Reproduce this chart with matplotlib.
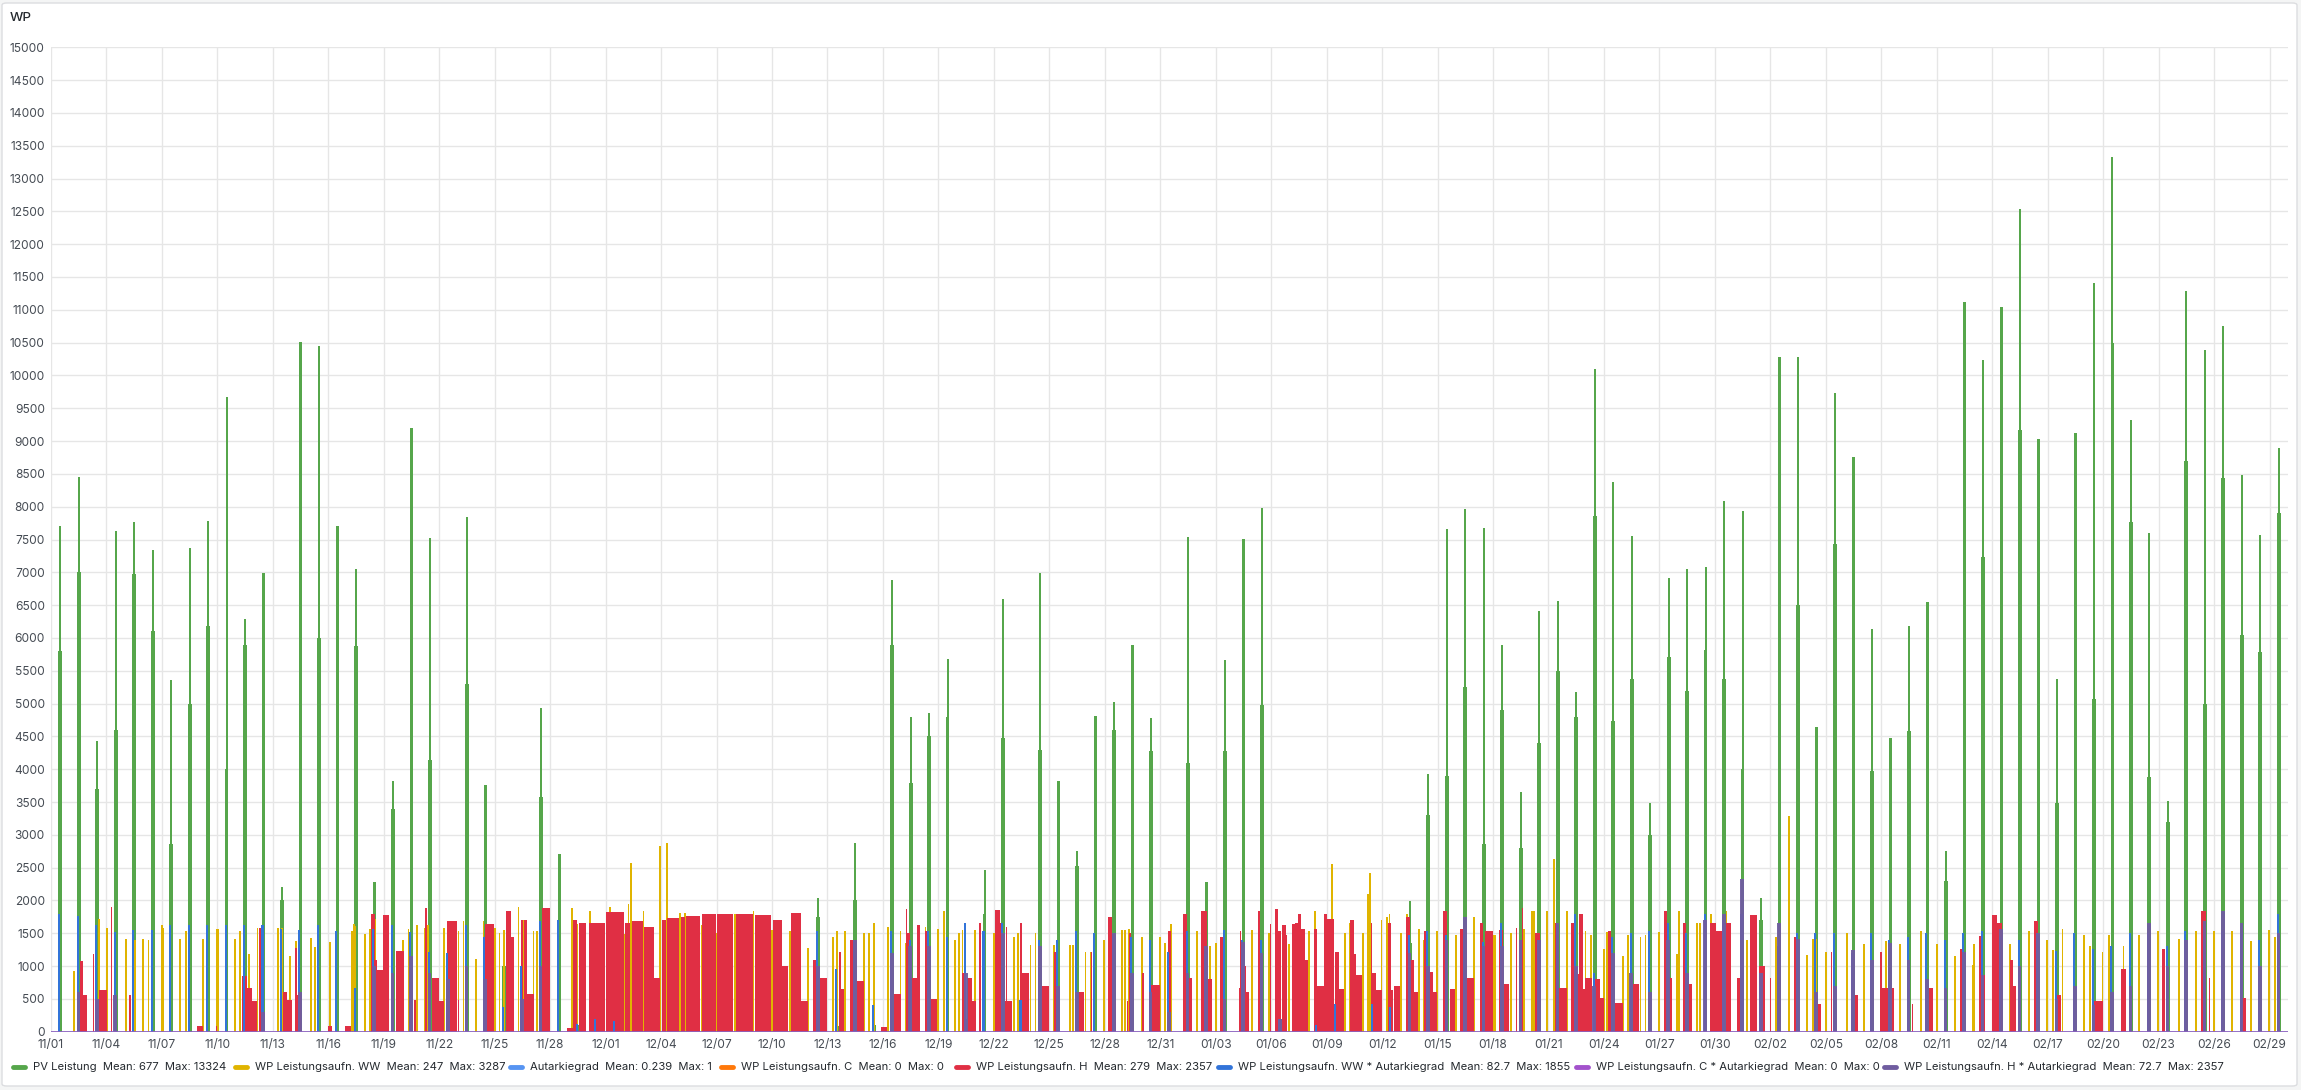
import matplotlib.pyplot as plt
from matplotlib.patches import FancyBboxPatch
from matplotlib.lines import Line2D
import numpy as np
import pandas as pd

plt.rcParams['font.family'] = ['Inter', 'DejaVu Sans']

# one entry per day, 2023-11-01 .. 2024-02-29 (x axis in days since 11/01)
days = pd.date_range('2023-11-01', '2024-02-29', freq='D')
tick_labels = [d.strftime('%m/%d') for d in days[::3]]

# PV Leistung, daily midday peak (W)
pv_peak = [7708, 8451, 4434, 7637, 7770, 7345, 5363, 7372, 7788, 9664,
           6283, 6991, 2212, 10513, 10442, 7699, 7044, 2274, 3814, 9204,
           7522, 600, 7841, 3761, 1310, 300, 4938, 2708, 100, 80,
           60, 90, 50, 120, 80, 60, 100, 70, 90, 60,
           120, 2035, 100, 2876, 150, 6885, 4788, 4850, 5673, 200,
           2460, 6593, 150, 6991, 3814, 2752, 4805, 5027, 5894, 4779,
           1500, 7540, 2283, 5664, 7504, 7982, 200, 150, 100, 150,
           200, 300, 400, 1991, 3920, 7655, 7965, 7681, 5894, 3646,
           6416, 6558, 5177, 10097, 8381, 7549, 3478, 6912, 7044, 7088,
           8080, 7938, 2035, 10274, 10274, 4646, 9735, 8761, 6133, 4469,
           6177, 6549, 2752, 11124, 10239, 11044, 12540, 9035, 5381, 9124,
           11407, 13324, 9319, 7602, 3522, 11292, 10381, 10752, 8487, 7566,
           8894]

# PV Leistung, level of the broad part of each day's curve (W)
pv_body = [5800, 7000, 3700, 4600, 6970, 6100, 2860, 5000, 6180, 4000,
           5900, 5600, 2000, 3200, 6000, 6000, 5870, 1900, 3400, 7000,
           4140, 400, 5300, 2500, 1000, 200, 3570, 2000, 70, 60,
           40, 70, 40, 90, 60, 40, 70, 50, 70, 40,
           90, 1750, 80, 2000, 100, 5900, 3790, 4500, 4800, 150,
           1800, 4470, 100, 4300, 3350, 2520, 4540, 4600, 5270, 4270,
           1000, 4100, 1500, 4270, 5470, 4980, 150, 100, 70, 100,
           150, 200, 300, 1350, 3300, 3900, 5250, 2860, 4900, 2800,
           4400, 5500, 4800, 7860, 4730, 5380, 3000, 5710, 5190, 5820,
           5380, 4000, 1700, 5960, 6500, 4100, 7430, 6440, 3980, 3700,
           4580, 5290, 2300, 9140, 7240, 9890, 9170, 8190, 3480, 7240,
           5070, 10500, 7770, 3880, 3190, 8700, 5000, 8430, 6040, 5780,
           7900]

# WP Leistungsaufn. H: heating runs (start day, end day, W)
heat_runs = [
    (1.57, 1.70, 1080), (1.70, 1.93, 560), (2.27, 2.33, 1185), (2.60, 3.00, 630),
    (3.25, 3.31, 1900), (4.25, 4.30, 560), (7.90, 8.20, 80), (8.92, 8.97, 80),
    (10.37, 10.60, 850), (10.60, 10.85, 670), (10.85, 11.13, 470), (11.27, 11.32, 1580),
    (12.54, 12.75, 600), (12.75, 13.00, 480), (13.24, 13.30, 1270), (13.30, 13.50, 560),
    (15.00, 15.20, 90), (15.90, 16.20, 90), (17.30, 17.50, 1800), (17.50, 17.62, 1100),
    (17.62, 17.98, 940), (17.98, 18.25, 1780), (18.70, 19.07, 1237), (19.66, 19.72, 490),
    (20.22, 20.33, 1880), (20.60, 20.96, 820), (20.96, 21.23, 470), (21.41, 21.95, 1680),
    (22.02, 22.06, 490), (23.48, 23.97, 1640), (24.62, 24.85, 1840), (24.85, 25.02, 1450),
    (25.43, 25.50, 1700), (25.60, 25.75, 1700), (25.75, 26.10, 580), (26.60, 26.95, 1880),
    (27.90, 28.20, 60), (28.23, 28.45, 1700), (28.55, 28.95, 1650),
    (29.10, 29.95, 1650), (30.05, 30.97, 1820), (31.05, 31.30, 1650), (31.42, 32.02, 1680),
    (32.10, 32.60, 1600), (32.60, 32.90, 820), (33.05, 33.25, 1700), (33.35, 33.97, 1740),
    (34.08, 34.28, 1750), (34.35, 35.10, 1760), (35.25, 35.95, 1790), (36.05, 36.90, 1800),
    (37.08, 37.95, 1790), (38.08, 38.94, 1780), (39.05, 39.50, 1700), (39.50, 39.85, 1000),
    (40.05, 40.53, 1810), (40.53, 40.92, 470),
    (41.25, 41.40, 1090), (41.61, 41.97, 820), (42.65, 42.70, 1220),
    (42.70, 42.90, 650), (43.24, 43.50, 1400), (43.60, 43.96, 780), (44.90, 45.20, 70),
    (45.60, 45.95, 580), (46.25, 46.30, 1870), (46.30, 46.45, 1500), (46.60, 46.84, 820),
    (46.84, 46.97, 1620), (47.28, 47.40, 1530), (47.56, 47.92, 500), (49.30, 49.50, 900),
    (49.55, 49.80, 820), (49.80, 50.00, 470), (50.22, 50.30, 1660), (51.08, 51.30, 1860),
    (51.30, 51.50, 1660), (51.60, 51.98, 470), (51.65, 51.70, 1590), (52.43, 52.51, 1660),
    (52.51, 52.90, 900), (53.57, 53.97, 700), (54.29, 54.42, 1220), (55.59, 55.86, 600),
    (56.25, 56.30, 1220), (57.20, 57.40, 1750), (57.55, 57.60, 470), (58.20, 58.25, 470),
    (58.30, 58.40, 1500), (59.05, 59.10, 900), (59.50, 59.99, 710), (60.45, 60.55, 1530),
    (61.24, 61.42, 1800), (61.50, 61.70, 820), (62.23, 62.53, 1840), (62.60, 62.80, 800),
    (63.26, 63.38, 1440), (63.38, 63.44, 800), (64.25, 64.34, 660), (64.32, 64.36, 1530),
    (64.43, 64.60, 1000), (64.66, 64.80, 600), (65.28, 65.39, 1840), (65.94, 66.00, 1640),
    (66.24, 66.36, 1870), (66.36, 66.50, 1530), (66.60, 66.77, 1620), (66.77, 66.85, 1480),
    (67.14, 67.32, 1640), (67.32, 67.44, 1660), (67.44, 67.62, 1800), (67.62, 67.80, 1560),
    (67.83, 67.99, 1090), (68.31, 68.49, 1570), (68.49, 68.85, 690), (68.89, 69.00, 1800),
    (69.05, 69.40, 1710), (69.48, 69.66, 1220), (69.71, 69.93, 650), (70.26, 70.44, 1700),
    (70.44, 70.56, 1180), (70.56, 70.92, 870), (71.41, 71.46, 1660), (71.46, 71.65, 900),
    (71.65, 71.97, 630), (72.33, 72.45, 1660), (72.45, 72.60, 630), (72.67, 72.96, 690),
    (73.33, 73.47, 1750), (73.54, 73.70, 1090), (73.70, 73.90, 600), (74.30, 74.41, 1530),
    (74.57, 74.75, 910), (74.75, 74.93, 600), (75.31, 75.52, 1840), (75.67, 75.92, 650),
    (76.25, 76.43, 1570), (76.43, 76.93, 820), (77.29, 77.42, 1660), (77.60, 77.96, 1530),
    (78.32, 78.50, 1550), (78.59, 78.86, 730), (79.26, 79.30, 1575), (79.45, 79.62, 900),
    (79.57, 79.61, 1890), (80.30, 80.50, 1500), (81.35, 81.50, 1660), (81.56, 81.96, 660),
    (82.25, 82.46, 1660), (82.50, 82.64, 880), (82.64, 82.86, 1800), (82.86, 83.00, 650),
    (83.00, 83.33, 820), (83.55, 83.76, 800), (83.82, 84.00, 510), (84.23, 84.36, 1530),
    (84.60, 84.99, 440), (85.60, 85.90, 730), (87.25, 87.38, 1840), (87.55, 87.66, 820),
    (88.28, 88.40, 1660), (88.60, 88.74, 730), (89.77, 90.04, 1660), (90.10, 90.40, 1530),
    (90.60, 90.87, 1660), (91.20, 91.40, 820), (91.93, 92.24, 1780), (92.40, 92.70, 1000),
    (92.97, 93.03, 820), (94.30, 94.40, 1440), (95.60, 95.70, 425), (96.28, 96.32, 1220),
    (97.60, 97.70, 560), (98.95, 99.00, 1220), (99.00, 99.70, 660), (100.68, 100.72, 425),
    (101.60, 101.77, 660), (103.26, 103.40, 1265), (104.30, 104.40, 1460), (104.50, 104.60, 870),
    (104.98, 105.27, 1780), (105.27, 105.50, 1660), (105.96, 106.10, 1100), (106.10, 106.27, 690),
    (107.27, 107.45, 1680), (108.50, 108.70, 560), (110.50, 110.97, 470), (112.00, 112.20, 960),
    (114.20, 114.35, 1265), (116.30, 116.57, 1840), (116.74, 116.78, 820), (118.40, 118.70, 510),
]

# WP Leistungsaufn. WW: hot water runs (day, W)
ww_runs = [
    (1.24, 930), (2.58, 1720), (3.01, 1580), (4.06, 1420), (4.55, 1400), (4.96, 1420),
    (5.27, 1390), (5.99, 1620), (6.08, 1580), (6.44, 1560), (6.98, 1420), (7.30, 1530),
    (8.24, 1420), (8.96, 1570), (9.05, 1560), (9.96, 1420), (10.23, 1530), (10.73, 1180),
    (11.17, 1580), (12.27, 1580), (12.48, 1580), (12.93, 1150), (13.26, 1380), (14.05, 1430),
    (14.29, 1290), (15.10, 1370), (16.27, 1530), (16.40, 1640), (16.45, 1610), (16.99, 1490),
    (17.26, 1560), (17.53, 1710), (18.13, 1580), (19.03, 1400), (19.34, 1560), (19.79, 1620),
    (20.24, 1580), (20.38, 1620), (21.27, 1580), (21.63, 1590), (22.04, 1530), (22.31, 1680),
    (22.98, 1110), (23.39, 1680), (24.03, 1580), (24.26, 1510), (24.48, 1550), (25.29, 1900),
    (25.60, 1700), (26.10, 1530), (26.28, 1530), (26.60, 1490), (26.90, 910), (28.18, 1880),
    (28.45, 1640), (29.17, 1840), (30.25, 1900), (31.00, 1490), (31.24, 1950), (31.37, 2575),
    (32.05, 1840), (32.95, 2830), (33.30, 2875), (34.04, 1810), (34.31, 1810), (35.21, 1620),
    (36.00, 1500), (37.00, 1800), (38.00, 1840), (38.98, 1550), (39.95, 1530), (40.95, 1270),
    (41.25, 955), (42.28, 1440), (42.50, 1530), (42.97, 1530), (43.96, 1500), (44.26, 1500),
    (44.50, 1650), (45.27, 1590), (45.95, 1530), (46.27, 1350), (46.97, 1480), (47.30, 1600),
    (47.98, 1570), (48.28, 1840), (48.92, 1400), (49.10, 1500), (49.30, 1550), (49.99, 1550),
    (50.27, 1480), (51.00, 1500), (52.08, 1440), (52.30, 1500), (52.98, 1320), (53.25, 1500),
    (54.24, 1320), (55.10, 1320), (55.30, 1320), (55.96, 1220), (56.27, 1220), (56.98, 1400),
    (57.20, 1570), (57.93, 1550), (58.10, 1550), (58.30, 1570), (59.00, 1440), (59.98, 1440),
    (60.24, 1350), (60.60, 1640), (61.99, 1530), (62.70, 1300), (63.00, 1350), (63.26, 1250),
    (64.97, 1550), (65.90, 1500), (66.96, 1340), (68.04, 1530), (68.35, 1840), (69.00, 1700),
    (69.30, 2550), (69.97, 1500), (70.26, 1660), (70.98, 1500), (71.23, 2100), (71.35, 2416),
    (71.97, 1700), (72.27, 1750), (72.40, 1800), (73.00, 1500), (73.33, 1800), (73.99, 1570),
    (74.26, 1400), (74.98, 1530), (75.98, 1480), (76.97, 1750), (78.01, 1480), (78.12, 1480),
    (78.95, 1500), (79.67, 1570), (80.10, 1840), (80.20, 1840), (80.93, 1840), (81.30, 2637),
    (81.99, 1840), (83.00, 1530), (83.30, 1480), (84.00, 1260), (84.18, 1520), (85.03, 1160),
    (85.30, 1480), (85.98, 1440), (86.25, 1480), (86.98, 1520), (87.96, 1180), (88.04, 1840),
    (89.03, 1660), (89.18, 1660), (89.77, 1800), (90.63, 1840), (91.76, 1400), (91.95, 1500),
    (93.30, 1440), (94.00, 3287), (94.99, 1170), (95.30, 1420), (95.45, 1420), (96.00, 1220),
    (97.15, 1500), (98.05, 1340), (99.25, 1380), (100.00, 1340), (101.14, 1530), (102.00, 1340),
    (103.00, 1160), (103.97, 1020), (104.03, 1340), (105.96, 1330), (106.99, 1530), (107.96, 1400),
    (108.30, 1250), (108.80, 1570), (109.97, 1480), (110.30, 1310), (110.97, 1220), (111.30, 1480),
    (112.10, 1310), (112.96, 1480), (113.99, 1530), (115.10, 1420), (116.02, 1530), (116.98, 1530),
    (117.99, 1530), (118.99, 1380), (119.99, 1550), (120.30, 1450),
]

# WP Leistungsaufn. WW * Autarkiegrad, midday peak per day
ww_autark = [1800, 1770, 1630, 1520, 1545, 1545, 1620, 1620, 1620, 1630,
             1620, 1620, 1570, 1545, 1620, 1535, 670, 1570, 1620, 1520,
             1210, 1200, 1620, 1440, 380, 1000, 1690, 1700, 110, 200,
             160, 0, 0, 0, 0, 0, 0, 0, 0, 0,
             0, 1530, 955, 1400, 400, 1530, 1400, 1530, 1450, 1660,
             1530, 1660, 480, 1400, 1400, 1530, 1500, 1450, 1440, 1400,
             1220, 1530, 1180, 1550, 1400, 1400, 200, 0, 100, 420,
             0, 420, 380, 1470, 1530, 1480, 1480, 1370, 1660, 1310,
             1400, 1660, 1800, 900, 1440, 1500, 1530, 1660, 1500, 1800,
             1700, 1800, 700, 1300, 1500, 1500, 1500, 1200, 1500, 1400,
             1440, 1500, 1400, 1500, 1530, 1440, 1400, 1500, 1230, 1500,
             1260, 1300, 1500, 1500, 1300, 1530, 1400, 1530, 1500, 1400,
             1800]

# WP Leistungsaufn. H * Autarkiegrad, midday peak per day
heat_autark = [0, 600, 500, 560, 0, 0, 0, 0, 0, 0,
               0, 300, 0, 600, 0, 0, 0, 1000, 900, 1150,
               900, 800, 1000, 800, 0, 500, 1000, 0, 0, 0,
               0, 0, 0, 0, 0, 0, 0, 0, 0, 0,
               0, 1000, 0, 1400, 0, 1200, 1300, 1300, 0, 900,
               0, 1500, 0, 1300, 700, 600, 0, 1500, 900, 600,
               300, 900, 1300, 500, 1370, 1200, 200, 0, 0, 0,
               0, 0, 0, 1200, 1000, 1400, 1750, 1300, 1300, 1400,
               1400, 1660, 1000, 700, 1200, 900, 600, 1400, 900, 1700,
               1800, 2330, 900, 1660, 1420, 600, 700, 1250, 1100, 1350,
               1100, 800, 660, 1220, 870, 1570, 1000, 1500, 500, 700,
               400, 600, 700, 1660, 1000, 1400, 1690, 1840, 1660, 1000,
               1500]

legend_names = ['PV Leistung', 'WP Leistungsaufn. WW', 'Autarkiegrad',
                'WP Leistungsaufn. C', 'WP Leistungsaufn. H',
                'WP Leistungsaufn. WW * Autarkiegrad',
                'WP Leistungsaufn. C * Autarkiegrad',
                'WP Leistungsaufn. H * Autarkiegrad']
legend_means = ['677', '247', '0.239', '0', '279', '82.7', '0', '72.7']
legend_maxes = ['13324', '3287', '1', '0', '2357', '1855', '0', '2357']
legend_colors = ['#56A64B', '#E0B400', '#5794F2', '#FF780A', '#E02F44',
                 '#3274D9', '#A352CC', '#705DA0']

W, H = 2301, 1090
fig = plt.figure(figsize=(W / 100, H / 100), dpi=100)
fig.patch.set_facecolor('#f4f5f5')
panel = FancyBboxPatch((2 / W, 4 / H), 2295 / W, 1083 / H,
                       boxstyle='round,pad=0,rounding_size=0.002',
                       transform=fig.transFigure, facecolor='white',
                       edgecolor='#dcdde0', linewidth=1, zorder=-5)
fig.add_artist(panel)

ax = fig.add_axes([51 / W, 58.3 / H, (2288 - 51) / W, (1031.7 - 47.3) / H])
ax.set_facecolor('white')

c = legend_colors
x = np.arange(len(days))
# broad lower part of the PV curve, then the narrow noon peak
ax.bar(x + 0.5, pv_body, width=0.2, color=c[0], linewidth=0, zorder=2)
ax.bar(x + 0.5, pv_peak, width=0.12, color=c[0], linewidth=0, zorder=2)

ww_t = [r[0] for r in ww_runs]
ww_v = [r[1] for r in ww_runs]
ax.bar(ww_t, ww_v, width=0.1, color=c[1], linewidth=0, zorder=3)

# bars are drawn a little wider than the run, like grafana's bar style
pad = 0.015
h_start = np.array([r[0] for r in heat_runs])
h_end = np.array([r[1] for r in heat_runs])
h_val = [r[2] for r in heat_runs]
ax.bar(h_start - pad, h_val, width=h_end - h_start + 2 * pad, align='edge',
       color=c[4], linewidth=0, zorder=4)

ax.bar(x + 0.44, ww_autark, width=0.11, color=c[5], linewidth=0, zorder=5)
ax.bar(x + 0.48, heat_autark, width=0.2, color=c[7], linewidth=0, zorder=6, alpha=0.95)
ax.axhline(0, color='#8a62c0', linewidth=2, zorder=7)

ax.set_xlim(0, len(days))
ax.set_ylim(0, 15000)
ax.set_xticks(np.arange(0, len(days), 3))
ax.set_xticklabels(tick_labels)
ax.set_yticks(np.arange(0, 15001, 500))
ax.tick_params(length=0, labelsize=8.6, colors='#464c54', pad=5)
ax.tick_params(axis='y', pad=4.5)
for s in ax.spines.values():
    s.set_visible(False)
ax.grid(True, color='#e6e6e6', linewidth=1)
ax.set_axisbelow(True)

fig.text(10 / W, 1 - 18 / H, 'WP', fontsize=9.6, fontweight='medium',
         color='#24292e', va='center', ha='left')

# legend row
leg_x = [13, 235, 510, 721, 956, 1218, 1576, 1884]
leg_y = 1 - 1067 / H
for i in range(len(legend_names)):
    x0 = leg_x[i] / W
    fig.add_artist(Line2D([x0, x0 + 12 / W], [leg_y, leg_y], color=legend_colors[i],
                          linewidth=3.5, solid_capstyle='round',
                          transform=fig.transFigure))
    label = '{}  Mean: {}  Max: {}'.format(legend_names[i], legend_means[i], legend_maxes[i])
    fig.text(x0 + 20 / W, leg_y, label, fontsize=8.1, color='#24292e',
             va='center', ha='left')

fig.savefig('out.png', dpi=100, facecolor=fig.get_facecolor())
